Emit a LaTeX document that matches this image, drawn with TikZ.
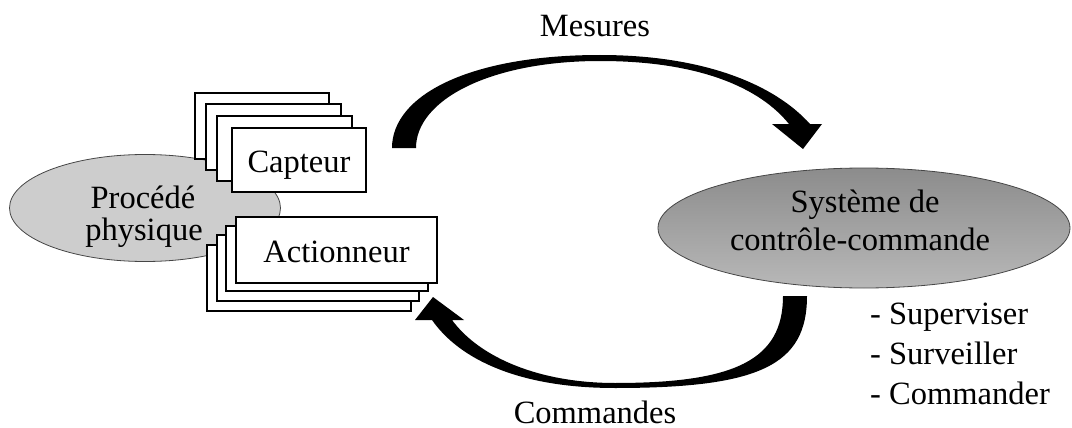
\documentclass[tikz,border=0pt]{standalone}
\usepackage{fontspec}
\setmainfont{Liberation Serif}
\usetikzlibrary{shapes.geometric}
\definecolor{procfill}{RGB}{205,205,205}
\definecolor{systop}{RGB}{140,140,140}
\definecolor{sysbot}{RGB}{184,184,184}
\definecolor{edgegray}{RGB}{70,70,70}
\begin{document}
\begin{tikzpicture}[x=1pt,y=-1pt,
  every node/.style={font=\fontsize{32.5}{36}\selectfont, inner sep=0pt},
  box/.style={draw=black, line width=1.3pt, fill=white},
  boxtext/.style={text height=24pt, text depth=0pt},
  oval/.style={ellipse, draw=edgegray, line width=0.8pt},
  txt/.style={anchor=base},
  listtxt/.style={anchor=base west},
  bigarrow/.style={fill=black, draw=none}]
\useasboundingbox (0,0) rectangle (1072,428);

% Procede physique
\node[oval, fill=procfill, minimum width=271pt, minimum height=107pt] (proc) at (145,208) {};
\node[txt] (proct1) at (143,208) {Procédé};
\node[txt] (proct2) at (144,240) {physique};

% Capteur stack
\node[box, minimum width=134pt, minimum height=66pt] (c1) at (262,126) {};
\node[box, minimum width=135pt, minimum height=66pt] (c2) at (273.5,137) {};
\node[box, minimum width=135pt, minimum height=65pt] (c3) at (284.5,148.5) {};
\node[box, boxtext, minimum width=134pt, minimum height=64pt] (capteur) at (299,160) {Capteur};

% Actionneur stack
\node[box, minimum width=204pt, minimum height=66pt] (a4) at (309,278) {};
\node[box, minimum width=202pt, minimum height=66pt] (a3) at (318,268) {};
\node[box, minimum width=202pt, minimum height=65pt] (a2) at (327,258.5) {};
\node[box, boxtext, minimum width=201pt, minimum height=66pt] (actionneur) at (336.5,250) {Actionneur};

% Systeme de controle-commande
\node[oval, top color=systop, bottom color=sysbot, minimum width=412pt, minimum height=120pt] (sys) at (864,228) {};
\node[txt] (syst1) at (865,212) {Système de};
\node[txt] (syst2) at (860,250) {contrôle-commande};

\node[listtxt] (l1) at (870,324) {- Superviser};
\node[listtxt] (l2) at (870,364) {- Surveiller};
\node[listtxt] (l3) at (870,404) {- Commander};

% Mesures arrow
\fill[bigarrow] (392,148) .. controls (392,95) and (470,55) .. (600,55)
  .. controls (705,55) and (775,85) .. (810,124)
  -- (822,124) -- (803,149) -- (772,124) -- (789,124)
  .. controls (760,88) and (700,61) .. (600,61)
  .. controls (490,61) and (416,100) .. (416,148) -- cycle;
\node[txt] (mesures) at (595,37) {Mesures};

% Commandes arrow
\fill[bigarrow] (807,296) .. controls (807,365) and (760,388) .. (615,388)
  .. controls (520,388) and (460,360) .. (432,320)
  -- (415,320) -- (433,297) -- (464,320) -- (452,320)
  .. controls (480,358) and (540,383) .. (615,383)
  .. controls (735,383) and (783,360) .. (783,296) -- cycle;
\node[txt] (commandes) at (595,423) {Commandes};
\end{tikzpicture}
\end{document}
